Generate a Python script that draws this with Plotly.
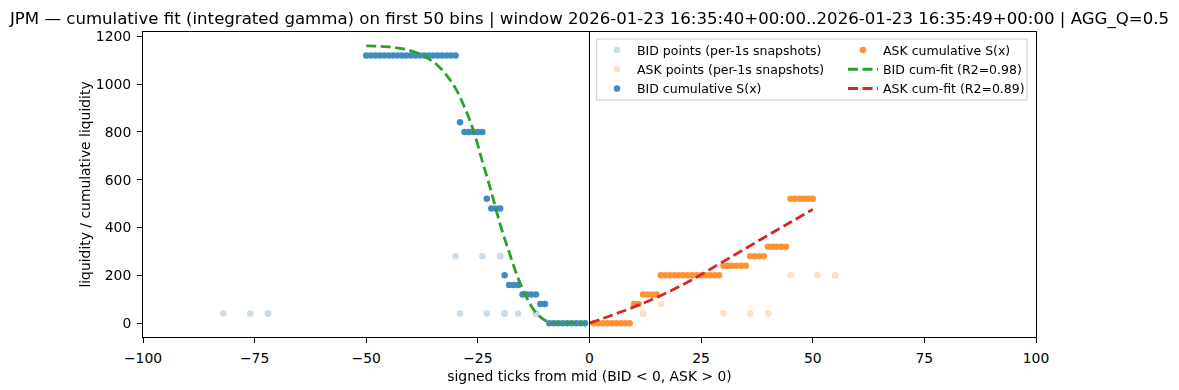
import plotly.graph_objects as go

TITLE = ("JPM — cumulative fit (integrated gamma) on first 50 bins | window "
         "2026-01-23 16:35:40+00:00..2026-01-23 16:35:49+00:00 | AGG_Q=0.5")

# per-1s snapshot points (repeats = same level seen in several snapshots)
bid_pts_x = [-82, -76, -72, -72, -72, -30, -29, -24, -23, -20, -20, -20,
             -19, -19, -19, -16, -12, -12, -12, -10]
bid_pts_y = [40, 40, 40, 40, 40, 280, 40, 280, 40, 280, 280, 280,
             40, 40, 40, 40, 40, 40, 40, 80]
ask_pts_x = [10, 12, 12, 12, 16, 30, 36, 40, 40, 40, 45, 51, 55, 55, 55]
ask_pts_y = [80, 40, 40, 40, 80, 40, 40, 40, 40, 40, 200, 200, 200, 200, 200]

# cumulative S(x) on the first 50 bins
bid_cum_x = list(range(-50, 0))
bid_cum_y = ([1120] * 21 + [840] + [800] * 5 + [520] + [480] * 3 + [200]
             + [160] * 3 + [120] * 4 + [80] * 2 + [0] * 9)
ask_cum_x = list(range(1, 51))
ask_cum_y = ([0] * 9 + [80] * 2 + [120] * 4 + [200] * 14 + [240] * 6
             + [280] * 4 + [320] * 5 + [520] * 6)

# fitted curves
bid_fit_x = [-50, -48, -46, -44, -42, -40, -38, -36, -34, -32, -30, -28, -26,
             -24, -22, -20, -18, -16, -14, -12, -10, -8, -6, -4, -2, -1]
bid_fit_y = [1160, 1159, 1157, 1154, 1148, 1139, 1126, 1106, 1078, 1037, 982,
             904, 806, 677, 550, 412, 297, 189, 104, 44, 12, 2, 0, 0, 0, 0]
ask_fit_x = [0, 5, 10, 15, 20, 25, 30, 35, 40, 45, 50]
ask_fit_y = [0, 33, 68, 107, 152, 203, 258, 313, 368, 422, 476]

BLUE = '#1f77b4'
ORANGE = '#ff7f0e'
FONT = 'DejaVu Sans'

fig = go.Figure()

fig.add_trace(go.Scatter(
    x=bid_pts_x, y=bid_pts_y, mode='markers', name='BID points (per-1s snapshots)',
    marker=dict(color=BLUE, size=6.5, line_width=0), opacity=0.25, legend='legend'))
fig.add_trace(go.Scatter(
    x=ask_pts_x, y=ask_pts_y, mode='markers', name='ASK points (per-1s snapshots)',
    marker=dict(color=ORANGE, size=6.5, line_width=0), opacity=0.25, legend='legend'))
fig.add_trace(go.Scatter(
    x=bid_cum_x, y=bid_cum_y, mode='markers', name='BID cumulative S(x)',
    marker=dict(color=BLUE, size=6.5, line_width=0), opacity=0.85, legend='legend'))
fig.add_trace(go.Scatter(
    x=ask_cum_x, y=ask_cum_y, mode='markers', name='ASK cumulative S(x)',
    marker=dict(color=ORANGE, size=6.5, line_width=0), opacity=0.85, legend='legend2'))
fig.add_trace(go.Scatter(
    x=bid_fit_x, y=bid_fit_y, mode='lines', name='BID cum-fit (R2=0.98)',
    line=dict(color='#2ca02c', width=2.8, dash='10px,4.5px', shape='spline'),
    legend='legend2'))
fig.add_trace(go.Scatter(
    x=ask_fit_x, y=ask_fit_y, mode='lines', name='ASK cum-fit (R2=0.89)',
    line=dict(color='#d62728', width=2.8, dash='10px,4.5px', shape='spline'),
    legend='legend2'))

# mid line
fig.add_shape(type='line', xref='x', yref='paper', x0=0, x1=0, y0=0, y1=1,
              line=dict(color='black', width=1))
# legend frame (two legends inside one box)
fig.add_shape(type='rect', xref='paper', yref='paper', x0=0.508, x1=0.990,
              y0=0.777, y1=0.977, line=dict(color='#cccccc', width=1),
              fillcolor='rgba(255,255,255,0.8)', layer='above')

axis_common = dict(
    showline=True, linecolor='black', linewidth=1, mirror=True,
    ticks='outside', ticklen=5, tickcolor='black', tickwidth=1,
    showgrid=False, zeroline=False, automargin=False,
    tickfont=dict(family=FONT, size=13.9, color='black'),
)

legend_common = dict(
    bgcolor='rgba(0,0,0,0)', borderwidth=0, xanchor='left', yanchor='top',
    y=0.989, font=dict(family=FONT, size=12.5, color='black'),
    tracegroupgap=0,
)

fig.update_layout(
    width=1179, height=390,
    margin=dict(l=143, r=143, t=32, b=53, autoexpand=False),
    paper_bgcolor='white', plot_bgcolor='white',
    font=dict(family=FONT, color='black'),
    title=dict(text=TITLE, x=0.5, xanchor='center', y=0.954, yanchor='middle',
               font=dict(family=FONT, size=16.6, color='black')),
    xaxis=dict(range=[-100, 100], tickvals=[-100, -75, -50, -25, 0, 25, 50, 75, 100],
               title=dict(text='signed ticks from mid (BID < 0, ASK > 0)',
                          font=dict(family=FONT, size=13.9), standoff=6),
               ticklabelstandoff=3, **axis_common),
    yaxis=dict(range=[-58, 1218], tickvals=[0, 200, 400, 600, 800, 1000, 1200],
               title=dict(text='liquidity / cumulative liquidity',
                          font=dict(family=FONT, size=13.9), standoff=1),
               ticklabelstandoff=3, **axis_common),
    legend=dict(x=0.5084, **legend_common),
    legend2=dict(x=0.7839, **legend_common),
)

# drop the default page margin so the figure sits at the window origin
fig.write_html("out.html", config={'displayModeBar': False},
               post_script="document.body.style.margin='0';")
